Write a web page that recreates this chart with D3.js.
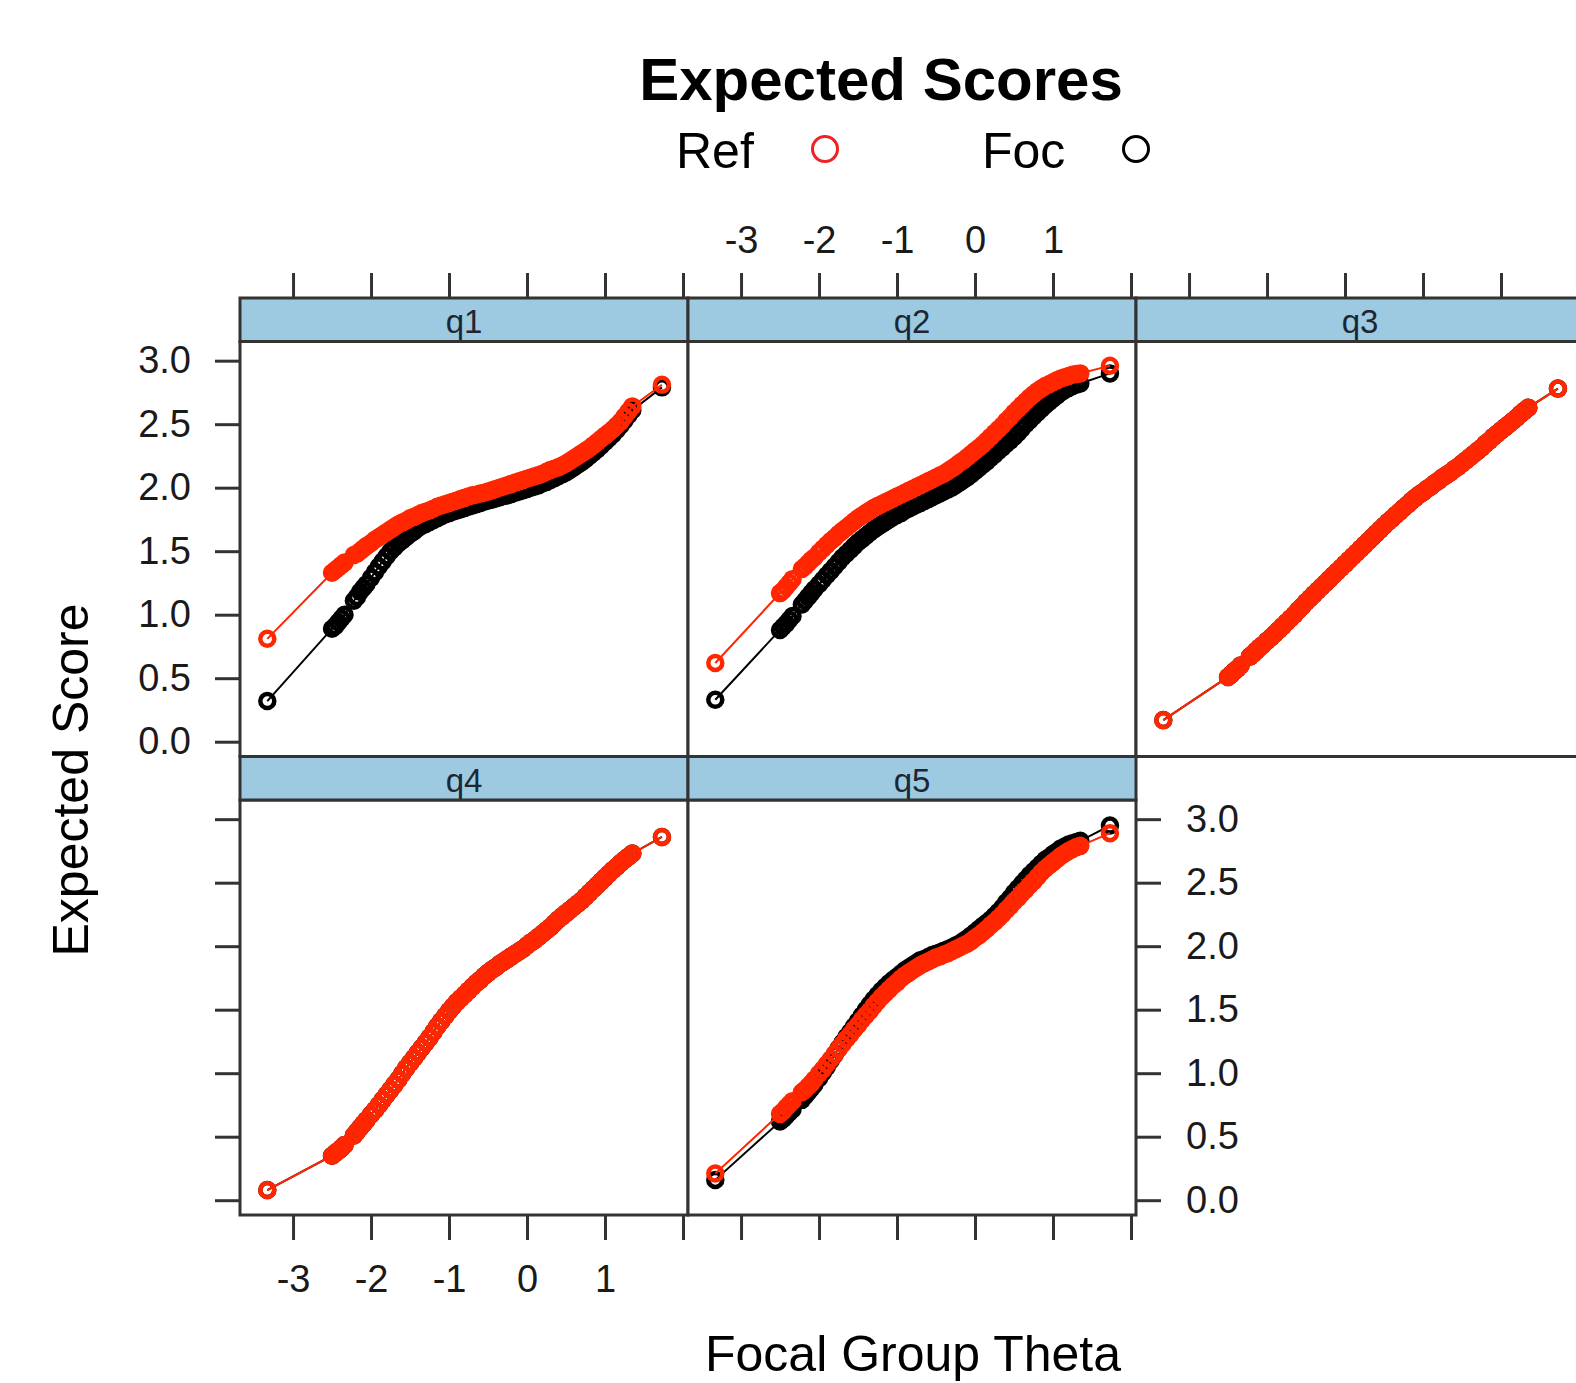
<!DOCTYPE html>
<html><head><meta charset="utf-8">
<script src="https://cdn.jsdelivr.net/npm/d3@7"></script>
<style>html,body{margin:0;padding:0;background:#fff;} svg{display:block;font-family:"Liberation Sans",Arial,Helvetica,sans-serif;}</style>
</head><body><svg id="chart" width="1576" height="1383"></svg>
<script>
// ---------------- data ----------------
const items = ["q1","q2","q3","q4","q5"];
const groups = ["Ref","Foc"];
const theta = [-3.33,-2.50,-2.46,-2.42,-2.38,-2.34,-2.22,-2.18,-2.14,-2.10,-2.06,-2.00,-1.95,-1.90,-1.85,-1.80,-1.75,-1.70,-1.65,-1.60,-1.55,-1.50,-1.45,-1.40,-1.35,-1.30,-1.25,-1.20,-1.15,-1.10,-1.05,-1.00,-0.95,-0.90,-0.85,-0.80,-0.75,-0.70,-0.65,-0.60,-0.55,-0.50,-0.45,-0.40,-0.35,-0.30,-0.25,-0.20,-0.15,-0.10,-0.05,0.00,0.05,0.10,0.15,0.20,0.25,0.30,0.35,0.40,0.45,0.50,0.55,0.60,0.65,0.70,0.75,0.80,0.85,0.90,0.95,1.00,1.05,1.10,1.15,1.20,1.25,1.30,1.35,1.73];

const q1Ref = [0.81,1.33,1.35,1.37,1.39,1.41,1.47,1.48,1.50,1.52,1.54,
 1.565,1.59,1.61,1.63,1.65,1.67,1.69,1.71,1.725,1.74,
 1.76,1.77,1.785,1.80,1.81,1.82,1.835,1.85,1.86,1.87,
 1.88,1.89,1.90,1.91,1.92,1.93,1.94,1.945,1.955,1.96,
 1.97,1.98,1.99,2.00,2.01,2.02,2.03,2.04,2.05,2.06,
 2.07,2.08,2.09,2.10,2.11,2.125,2.14,2.15,2.16,2.175,
 2.19,2.21,2.23,2.25,2.27,2.29,2.31,2.335,2.36,2.385,
 2.41,2.435,2.46,2.49,2.52,2.56,2.60,2.64,2.81];
const q1Foc = [0.32,0.89,0.91,0.94,0.97,1.00,1.11,1.14,1.18,1.21,1.24,
 1.29,1.335,1.38,1.42,1.46,1.50,1.53,1.56,1.585,1.61,
 1.635,1.655,1.68,1.70,1.715,1.73,1.745,1.76,1.775,1.79,
 1.80,1.81,1.82,1.83,1.84,1.85,1.86,1.87,1.88,1.89,
 1.90,1.905,1.915,1.925,1.935,1.94,1.95,1.96,1.97,1.98,
 1.99,2.00,2.01,2.02,2.035,2.045,2.06,2.075,2.09,2.105,
 2.12,2.14,2.16,2.18,2.20,2.225,2.25,2.275,2.30,2.33,
 2.36,2.39,2.42,2.455,2.49,2.53,2.57,2.61,2.79];
const q2Ref = [0.62,1.17,1.19,1.22,1.25,1.28,1.36,1.38,1.405,1.43,1.45,
 1.49,1.52,1.55,1.58,1.605,1.635,1.66,1.685,1.71,1.735,
 1.76,1.78,1.80,1.82,1.84,1.855,1.87,1.885,1.90,1.915,
 1.93,1.945,1.96,1.975,1.99,2.005,2.02,2.035,2.05,2.065,
 2.08,2.095,2.11,2.13,2.15,2.17,2.195,2.215,2.24,2.265,
 2.29,2.315,2.34,2.37,2.40,2.43,2.46,2.49,2.525,2.555,
 2.59,2.62,2.65,2.68,2.71,2.735,2.76,2.78,2.80,2.815,
 2.83,2.845,2.86,2.87,2.88,2.89,2.895,2.90,2.96];
const q2Foc = [0.33,0.88,0.905,0.93,0.96,0.99,1.08,1.11,1.14,1.17,1.20,
 1.24,1.275,1.31,1.345,1.38,1.415,1.45,1.48,1.51,1.54,
 1.57,1.595,1.62,1.645,1.67,1.69,1.71,1.73,1.75,1.77,
 1.785,1.80,1.82,1.835,1.85,1.865,1.88,1.895,1.91,1.925,
 1.94,1.955,1.97,1.985,2.00,2.02,2.04,2.06,2.08,2.105,
 2.13,2.155,2.18,2.205,2.235,2.26,2.29,2.315,2.345,2.37,
 2.40,2.43,2.465,2.50,2.53,2.56,2.59,2.62,2.65,2.675,
 2.70,2.725,2.75,2.77,2.785,2.80,2.81,2.82,2.90];
const q3Ref = [0.17,0.51,0.53,0.555,0.575,0.60,0.67,0.69,0.715,0.74,0.76,
 0.795,0.82,0.85,0.88,0.91,0.94,0.97,1.00,1.035,1.065,
 1.10,1.13,1.16,1.19,1.22,1.25,1.28,1.31,1.34,1.37,
 1.40,1.43,1.46,1.49,1.52,1.55,1.58,1.61,1.64,1.67,
 1.70,1.73,1.755,1.785,1.81,1.84,1.865,1.895,1.92,1.945,
 1.965,1.99,2.01,2.035,2.055,2.08,2.10,2.12,2.145,2.165,
 2.19,2.215,2.24,2.265,2.29,2.315,2.345,2.37,2.40,2.425,
 2.45,2.475,2.50,2.525,2.55,2.58,2.605,2.63,2.78];
const q3Foc = [0.17,0.51,0.53,0.555,0.575,0.60,0.67,0.69,0.715,0.74,0.76,
 0.795,0.82,0.85,0.88,0.91,0.94,0.97,1.00,1.035,1.065,
 1.10,1.13,1.16,1.19,1.22,1.25,1.28,1.31,1.34,1.37,
 1.40,1.43,1.46,1.49,1.52,1.55,1.58,1.61,1.64,1.67,
 1.70,1.73,1.755,1.785,1.81,1.84,1.865,1.895,1.92,1.945,
 1.965,1.99,2.01,2.035,2.055,2.08,2.10,2.12,2.145,2.165,
 2.19,2.215,2.24,2.265,2.29,2.315,2.345,2.37,2.40,2.425,
 2.45,2.475,2.50,2.525,2.55,2.58,2.605,2.63,2.78];
const q4Ref = [0.08,0.35,0.37,0.39,0.41,0.435,0.51,0.54,0.57,0.60,0.63,
 0.675,0.71,0.75,0.79,0.83,0.87,0.91,0.95,0.995,1.04,
 1.08,1.12,1.16,1.20,1.24,1.28,1.325,1.37,1.41,1.45,
 1.49,1.525,1.56,1.59,1.62,1.65,1.68,1.71,1.735,1.765,
 1.79,1.815,1.835,1.86,1.88,1.90,1.92,1.94,1.96,1.98,
 2.005,2.03,2.05,2.075,2.10,2.125,2.15,2.18,2.21,2.235,
 2.26,2.285,2.31,2.335,2.36,2.39,2.42,2.45,2.48,2.51,
 2.54,2.57,2.60,2.625,2.655,2.68,2.705,2.73,2.86];
const q4Foc = [0.08,0.35,0.37,0.39,0.41,0.435,0.51,0.54,0.57,0.60,0.63,
 0.675,0.71,0.75,0.79,0.83,0.87,0.91,0.95,0.995,1.04,
 1.08,1.12,1.16,1.20,1.24,1.28,1.325,1.37,1.41,1.45,
 1.49,1.525,1.56,1.59,1.62,1.65,1.68,1.71,1.735,1.765,
 1.79,1.815,1.835,1.86,1.88,1.90,1.92,1.94,1.96,1.98,
 2.005,2.03,2.05,2.075,2.10,2.125,2.15,2.18,2.21,2.235,
 2.26,2.285,2.31,2.335,2.36,2.39,2.42,2.45,2.48,2.51,
 2.54,2.57,2.60,2.625,2.655,2.68,2.705,2.73,2.86];
const q5Ref = [0.21,0.68,0.70,0.73,0.755,0.78,0.85,0.87,0.895,0.92,0.95,
 0.995,1.03,1.07,1.11,1.15,1.19,1.23,1.27,1.305,1.345,
 1.38,1.42,1.455,1.49,1.53,1.565,1.60,1.63,1.66,1.69,
 1.715,1.745,1.77,1.79,1.81,1.83,1.85,1.865,1.88,1.895,
 1.91,1.92,1.935,1.945,1.96,1.975,1.99,2.005,2.02,2.04,
 2.065,2.085,2.11,2.135,2.165,2.19,2.22,2.25,2.285,2.315,
 2.35,2.38,2.415,2.445,2.48,2.51,2.545,2.58,2.61,2.635,
 2.66,2.685,2.71,2.73,2.75,2.765,2.78,2.79,2.89];
const q5Foc = [0.16,0.62,0.64,0.665,0.69,0.715,0.79,0.82,0.85,0.88,0.91,
 0.96,1.005,1.05,1.10,1.145,1.195,1.24,1.285,1.325,1.37,
 1.41,1.455,1.50,1.54,1.58,1.615,1.65,1.68,1.71,1.735,
 1.76,1.785,1.81,1.83,1.85,1.87,1.89,1.90,1.915,1.93,
 1.94,1.95,1.965,1.975,1.99,2.005,2.02,2.04,2.06,2.085,
 2.11,2.135,2.16,2.185,2.21,2.24,2.27,2.305,2.345,2.38,
 2.42,2.455,2.49,2.525,2.56,2.59,2.62,2.65,2.68,2.70,
 2.725,2.745,2.77,2.785,2.80,2.81,2.82,2.83,2.95];

const xTicks = [-3,-2,-1,0,1,2];
const xTickLabels = ["-3","-2","-1","0","1",""];
const yTicks = [0,0.5,1,1.5,2,2.5,3];
const yTickLabels = ["0.0","0.5","1.0","1.5","2.0","2.5","3.0"];

// ------------- build table -------------
const seriesByItem = {
  q1:{Ref:q1Ref,Foc:q1Foc}, q2:{Ref:q2Ref,Foc:q2Foc}, q3:{Ref:q3Ref,Foc:q3Foc},
  q4:{Ref:q4Ref,Foc:q4Foc}, q5:{Ref:q5Ref,Foc:q5Foc}
};

// ------------- layout -------------
const W = 1576, H = 1383;
const panelW = 448, panelH = 415, stripH = 43.5;
const colLeft = [240, 688, 1136];
const stripTop = [298, 756.5];
const xDomain = [-3.68, 2.064];
const yDomain = [-0.1165, 3.151];
const colors = {Ref:"#ff2600", Foc:"#000000"};
const borderCol = "#333333";
const tickLen = 25;
const tickFont = 38;

const layout = [
  {item:"q1",row:0,col:0},{item:"q2",row:0,col:1},{item:"q3",row:0,col:2},
  {item:"q4",row:1,col:0},{item:"q5",row:1,col:1}
];

const svg = d3.select("#chart");
svg.append("rect").attr("width",W).attr("height",H).attr("fill","#fff");

function styleAxis(g, showLabels){
  g.select(".domain").remove();
  g.selectAll(".tick line").attr("stroke",borderCol).attr("stroke-width",3);
  g.selectAll(".tick text").attr("fill","#1a1a1a")
    .style("font-size",tickFont+"px")
    .style("font-family",'"Liberation Sans",Arial,sans-serif');
  if(!showLabels) g.selectAll(".tick text").remove();
}

layout.forEach(p=>{
  const left = colLeft[p.col];
  const sTop = stripTop[p.row];
  const pTop = sTop + stripH;
  const pBot = pTop + panelH;
  const x = d3.scaleLinear().domain(xDomain).range([left, left+panelW]);
  const y = d3.scaleLinear().domain(yDomain).range([pBot, pTop]);
  const g = svg.append("g").attr("class","panel-"+p.item);

  g.append("rect").attr("x",left).attr("y",pTop).attr("width",panelW).attr("height",panelH)
    .attr("fill","#fff");

  // data: Foc first, Ref on top
  ["Foc","Ref"].forEach(grp=>{
    const vals = seriesByItem[p.item][grp];
    const pts = theta.map((t,i)=>({t, v:vals[i]}));
    const line = d3.line().x(d=>x(d.t)).y(d=>y(d.v));
    g.append("path").datum(pts).attr("d",line).attr("fill","none")
      .attr("stroke",colors[grp]).attr("stroke-width",2);
    g.append("g").selectAll("circle").data(pts).join("circle")
      .attr("cx",d=>x(d.t)).attr("cy",d=>y(d.v)).attr("r",7)
      .attr("fill","none").attr("stroke",colors[grp]).attr("stroke-width",4.5);
  });

  g.append("rect").attr("x",left).attr("y",pTop).attr("width",panelW).attr("height",panelH)
    .attr("fill","none").attr("stroke",borderCol).attr("stroke-width",3);
  g.append("rect").attr("x",left).attr("y",sTop).attr("width",panelW).attr("height",stripH)
    .attr("fill","#9ecae1").attr("stroke",borderCol).attr("stroke-width",3);
  g.append("text").attr("x",left+panelW/2).attr("y",sTop+35).attr("text-anchor","middle")
    .attr("fill","#1c2733").style("font-size","33px").text(p.item);

  const fmtX = (d)=> xTickLabels[xTicks.indexOf(d)];
  const fmtY = (d)=> yTickLabels[yTicks.indexOf(d)];

  if(p.row===0){
    const ax = d3.axisTop(x).tickValues(xTicks).tickFormat(fmtX).tickSizeInner(tickLen).tickSizeOuter(0).tickPadding(20);
    const ga = svg.append("g").attr("transform",`translate(0,${sTop})`).call(ax);
    styleAxis(ga, p.col===1);
  }
  if(p.row===1){
    const ax = d3.axisBottom(x).tickValues(xTicks).tickFormat(fmtX).tickSizeInner(tickLen).tickSizeOuter(0).tickPadding(25);
    const ga = svg.append("g").attr("transform",`translate(0,${pBot})`).call(ax);
    styleAxis(ga, p.col===0);
  }
  if(p.col===0){
    const ay = d3.axisLeft(y).tickValues(yTicks).tickFormat(fmtY).tickSizeInner(tickLen).tickSizeOuter(0).tickPadding(24);
    const ga = svg.append("g").attr("transform",`translate(${left},0)`).call(ay);
    styleAxis(ga, p.row===0);
  }
  if((p.row===1 && p.col===1) || (p.row===0 && p.col===2)){
    const ay = d3.axisRight(y).tickValues(yTicks).tickFormat(fmtY).tickSizeInner(tickLen).tickSizeOuter(0).tickPadding(25);
    const ga = svg.append("g").attr("transform",`translate(${left+panelW},0)`).call(ay);
    styleAxis(ga, p.row===1);
  }
});

// title
svg.append("text").attr("x",881).attr("y",100).attr("text-anchor","middle")
  .style("font-size","60px").style("font-weight","bold").attr("fill","#000").text("Expected Scores");

// legend
const legend = [
  {label:"Ref", tx:676, cx:825, col:"#ee2222"},
  {label:"Foc", tx:982, cx:1136, col:"#000"}
];
legend.forEach(l=>{
  svg.append("text").attr("x",l.tx).attr("y",168).style("font-size","50px").attr("fill","#000").text(l.label);
  svg.append("circle").attr("cx",l.cx).attr("cy",149).attr("r",12.5).attr("fill","none")
    .attr("stroke",l.col).attr("stroke-width",3);
});

// axis titles
svg.append("text").attr("x",913).attr("y",1371).attr("text-anchor","middle")
  .style("font-size","50px").attr("fill","#000").text("Focal Group Theta");
svg.append("text").attr("transform","translate(88,780) rotate(-90)").attr("text-anchor","middle")
  .style("font-size","50px").attr("fill","#000").text("Expected Score");
</script></body></html>
